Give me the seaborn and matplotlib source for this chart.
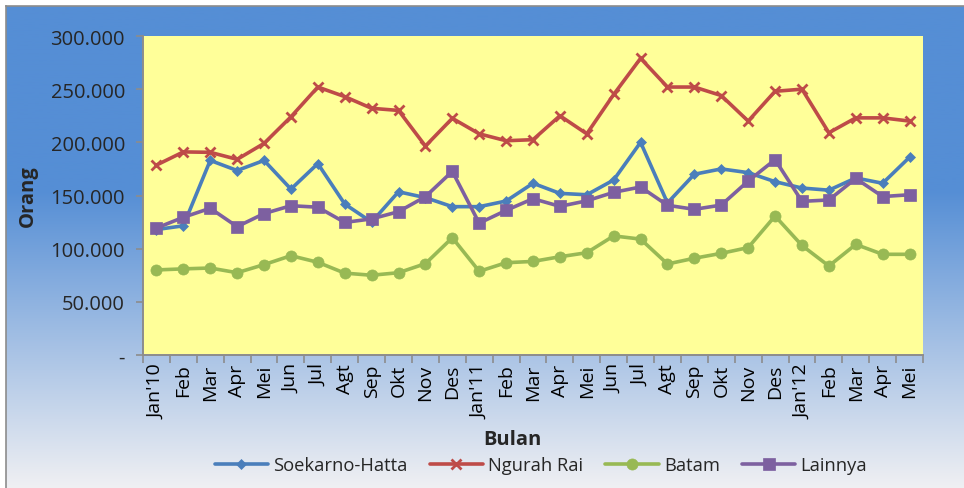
import numpy as np
import pandas as pd
import matplotlib
matplotlib.use("Agg")
import matplotlib.pyplot as plt
import seaborn as sns
from matplotlib.ticker import FuncFormatter, FixedLocator

# data
months = ["Jan'10", "Feb", "Mar", "Apr", "Mei", "Jun", "Jul", "Agt", "Sep", "Okt", "Nov", "Des",
          "Jan'11", "Feb", "Mar", "Apr", "Mei", "Jun", "Jul", "Agt", "Sep", "Okt", "Nov", "Des",
          "Jan'12", "Feb", "Mar", "Apr", "Mei"]

soekarno_hatta = [118000, 121500, 183000, 173500, 183000, 156000, 180000, 142000, 125000, 153500,
                  148000, 139500, 139500, 144800, 161500, 152000, 150700, 164600, 200000, 143000,
                  170000, 175000, 171500, 163000, 157000, 155000, 166500, 161500, 186000]
ngurah_rai = [178600, 191000, 190600, 184000, 199000, 224000, 252000, 243000, 232000, 230000,
              196500, 222600, 208000, 201500, 202500, 225000, 208000, 245000, 279000, 252000,
              252000, 244000, 220000, 248000, 250000, 209000, 223000, 223000, 220000]
batam = [80000, 81000, 81800, 77400, 85000, 93400, 87200, 77000, 75000, 77400,
         85900, 110300, 78700, 86800, 88000, 92400, 96200, 112000, 109000, 85600,
         91000, 95600, 101000, 130700, 103000, 83700, 104000, 94700, 94700]
lainnya = [119400, 129500, 138000, 120700, 133000, 140400, 139000, 124700, 128000, 134800,
           148900, 172700, 124000, 136000, 147000, 139800, 145000, 153000, 158000, 140800,
           137000, 141000, 163600, 183700, 144500, 145800, 166000, 149000, 150700]

series = [
    ("Soekarno-Hatta", soekarno_hatta, "#4A7EBB", "D", 5.5),
    ("Ngurah Rai", ngurah_rai, "#BE4B48", "x", 7),
    ("Batam", batam, "#98B954", "o", 8),
    ("Lainnya", lainnya, "#7D60A0", "s", 8),
]

sns.set_style("ticks")
plt.rcParams['font.family'] = ['Open Sans', 'DejaVu Sans']

fig = plt.figure(figsize=(9.64, 4.89), dpi=100)
fig.patch.set_facecolor("white")

# gradient background of the chart area
bg = fig.add_axes([6 / 964, 0, 1 - 6 / 964, (489 - 7) / 489], zorder=0)
h = 489
ys = np.arange(h)
top = np.array([85, 142, 213]) / 255
bot = np.array([240, 240, 243]) / 255
t = np.clip((ys - 187) / (h - 187), 0, 1)[:, None]
grad = top * (1 - t) + bot * t
bg.imshow(grad[:, None, :], aspect="auto", extent=[0, 1, 0, 1], origin="upper")
bg.set_xlim(0, 1)
bg.set_ylim(0, 1)
bg.set_xticks([])
bg.set_yticks([])
for s in ["right", "bottom"]:
    bg.spines[s].set_visible(False)
for s in ["top", "left"]:
    bg.spines[s].set_color("#8C8C8C")
    bg.spines[s].set_linewidth(1.2)

ax = fig.add_axes([143 / 964, 1 - 356 / 489, (923 - 143) / 964, (356 - 37) / 489], zorder=1)
ax.set_facecolor("#FFFF99")

x = np.arange(len(months))
for name, vals, color, marker, ms in series:
    df = pd.DataFrame({"x": x, "y": vals})
    sns.lineplot(data=df, x="x", y="y", ax=ax, color=color, linewidth=2.6,
                 marker=marker, markersize=ms, markeredgecolor=color,
                 markeredgewidth=2 if marker == "x" else 0.5, label=name, sort=False)

ax.set_xlim(-0.5, len(months) - 0.5)
ax.set_ylim(0, 300000)
ax.set_xticks(x)
ax.set_xticklabels(months, rotation=90, fontsize=14)
ax.xaxis.set_minor_locator(FixedLocator(np.arange(-0.5, len(months), 1.0)))
ax.tick_params(axis="x", which="major", length=0, pad=6, colors="black")
ax.tick_params(axis="x", which="minor", length=6, width=1.2, color="#8C8C8C")
ax.set_yticks(np.arange(0, 300001, 50000))
ax.yaxis.set_major_formatter(FuncFormatter(
    lambda v, p: "-" if v == 0 else "{:,}".format(int(v)).replace(",", ".")))
ax.tick_params(axis="y", length=5, width=1.2, color="#8C8C8C", labelsize=14.5, pad=8)

for s in ["top", "right"]:
    ax.spines[s].set_visible(False)
for s in ["left", "bottom"]:
    ax.spines[s].set_color("#8C8C8C")
    ax.spines[s].set_linewidth(1.4)

ax.set_xlabel("")
ax.set_ylabel("")
fig.text(28 / 964, 1 - 196 / 489, "Orang", rotation=90, ha="center", va="center",
         fontsize=14.5, fontweight="bold")
fig.text(512 / 964, 1 - 440 / 489, "Bulan", ha="center", va="center",
         fontsize=14.5, fontweight="bold")

ax.legend_.remove()
handles, labels = ax.get_legend_handles_labels()
fig.legend(handles, labels, loc="center", bbox_to_anchor=(541 / 964, 1 - 466 / 489),
           ncol=4, frameon=False, fontsize=13.2, handlelength=2.9, columnspacing=1.2,
           handletextpad=0.3)

fig.savefig("out.png", dpi=100)
